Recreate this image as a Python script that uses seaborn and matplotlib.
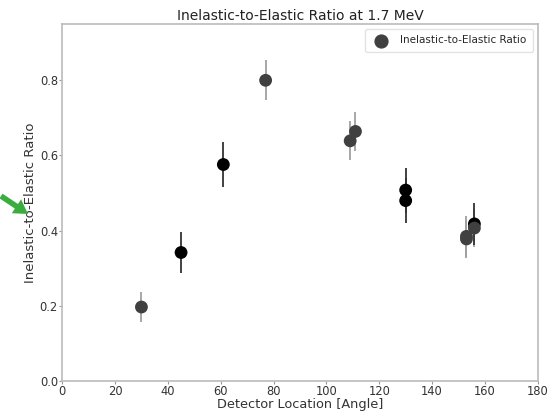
import pandas as pd
import matplotlib
matplotlib.use("Agg")
import matplotlib.pyplot as plt
import seaborn as sns

# data
angles = [30, 45, 61, 77, 109, 111, 130, 130, 153, 153, 156, 156]
ratios = [0.197, 0.342, 0.576, 0.800, 0.639, 0.664, 0.508, 0.480, 0.385, 0.378, 0.418, 0.407]
errors = [0.040, 0.054, 0.060, 0.053, 0.052, 0.052, 0.060, 0.060, 0.055, 0.050, 0.055, 0.050]
groups = ["gray", "black", "black", "gray", "gray", "gray", "black", "black", "gray", "gray", "black", "gray"]

df = pd.DataFrame({"angle": angles, "ratio": ratios, "err": errors, "group": groups})

sns.set_style("white")
plt.rcParams['font.family'] = ['DejaVu Sans']

fig, ax = plt.subplots(figsize=(5.55, 4.12), dpi=100)
fig.subplots_adjust(left=0.112, right=0.969, top=0.942, bottom=0.075)

ecol = {"gray": "#a0a0a0", "black": "#333333"}
mcol = {"gray": "#404040", "black": "#000000"}

for g in ["gray", "black"]:
    sub = df[df.group == g]
    ax.errorbar(sub.angle, sub.ratio, yerr=sub.err, fmt="none", ecolor=ecol[g], elinewidth=1.3, zorder=2)

sns.scatterplot(data=df, x="angle", y="ratio", hue="group", palette=mcol,
                s=85, edgecolor="none", legend=False, ax=ax, zorder=3)

# legend entry
ax.scatter([], [], s=85, color="#404040", label="Inelastic-to-Elastic Ratio")
ax.legend(loc="upper right", fontsize=7.5, frameon=True, edgecolor="#dddddd", borderpad=0.6)

ax.set_xlim(0, 180)
ax.set_ylim(0, 0.95)
ax.set_xticks(range(0, 181, 20))
ax.set_yticks([0.0, 0.2, 0.4, 0.6, 0.8])
ax.set_title("Inelastic-to-Elastic Ratio at 1.7 MeV", fontsize=10, color="#222222", pad=3)
ax.set_xlabel("Detector Location [Angle]", fontsize=9.3, color="#333333", labelpad=0)
ax.set_ylabel("Inelastic-to-Elastic Ratio", fontsize=9.5, color="#333333", labelpad=2)
ax.tick_params(axis="both", labelsize=8.3, colors="#333333", length=2.5, direction="out",
               left=True, bottom=True, color="#999999", pad=0.5)
for s in ax.spines.values():
    s.set_color("#bbbbbb")
    s.set_linewidth(1.2)

# green arrow pointing at the y label
ax.annotate("", xy=(28, 198), xycoords="figure pixels", xytext=(1, 216),
            textcoords="figure pixels",
            arrowprops=dict(facecolor="#3aad3f", edgecolor="none", width=4, headwidth=12, headlength=10))

plt.savefig("out.png", dpi=100)
